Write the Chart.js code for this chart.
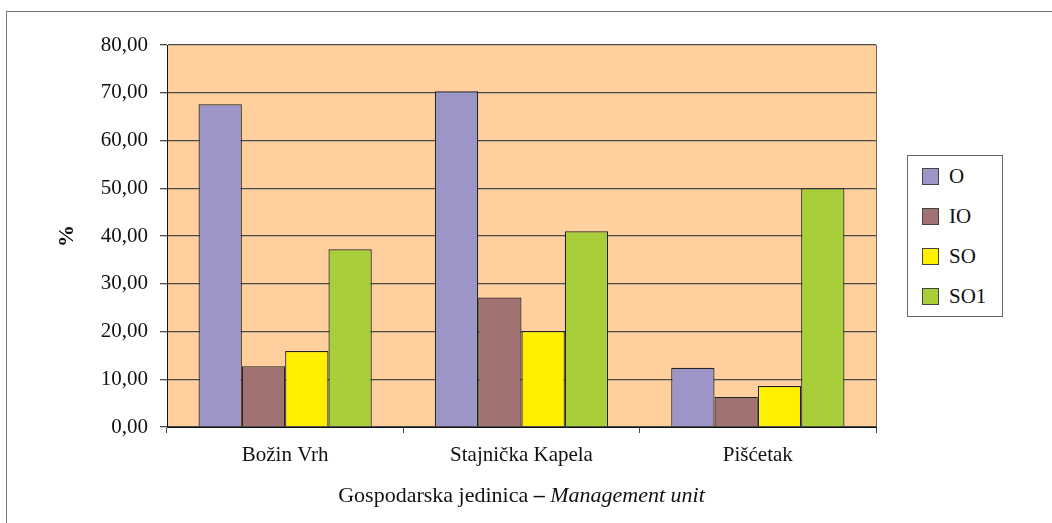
<!DOCTYPE html>
<html>
<head>
<meta charset="utf-8">
<script src="https://cdn.jsdelivr.net/npm/chart.js@4"></script>
<style>
  html, body { margin: 0; padding: 0; background: #fff; }
  #wrap { position: relative; width: 1052px; height: 523px; overflow: hidden; }
  #frame { position: absolute; left: 6px; top: 11px; width: 1100px; height: 600px;
           border-left: 1px solid #777; border-top: 1px solid #777; }
  #legend { position: absolute; left: 907px; top: 155px; width: 94px; height: 160px;
            border: 1px solid #666; background: #fff;
            font-family: "Liberation Serif", serif; font-size: 21px; color: #111; }
  .item { position: absolute; left: 14px; height: 18px; line-height: 18px; }
  .sw { position: absolute; left: 0; top: 0; width: 15px; height: 15px; border: 1px solid #444; }
  .lbl { position: absolute; left: 27px; top: -1px; white-space: nowrap; }
</style>
</head>
<body>
<div id="wrap">
  <div id="frame"></div>
  <canvas id="myChart" width="1052" height="523"></canvas>
  <div id="legend"></div>
</div>
<script>
const categories = ["Božin Vrh", "Stajnička Kapela", "Pišćetak"];
const seriesNames = ["O", "IO", "SO", "SO1"];
const valuesO = [67.6, 70.3, 12.4];
const valuesIO = [12.7, 27.1, 6.3];
const valuesSO = [15.9, 20.1, 8.6];
const valuesSO1 = [37.2, 41.0, 50.0];
const yTicks = [0, 10, 20, 30, 40, 50, 60, 70, 80];

const colors = ["#9c96c8", "#a27272", "#fff000", "#a8ce3a"];
const plotBg = "#ffd09e";
const fontFamily = "'Liberation Serif', 'Times New Roman', serif";

// plot background + right edge of the plot area
const plotArea = {
  id: 'plotArea',
  beforeDraw(chart) {
    const {ctx, chartArea: a} = chart;
    ctx.save();
    ctx.fillStyle = plotBg;
    ctx.fillRect(a.left, a.top, a.right - a.left, a.bottom - a.top);
    ctx.restore();
  },
  afterDraw(chart) {
    const {ctx, chartArea: a} = chart;
    ctx.save();
    ctx.strokeStyle = "#666";
    ctx.lineWidth = 1;
    ctx.beginPath();
    ctx.moveTo(a.right + 0.5, a.top);
    ctx.lineTo(a.right + 0.5, a.bottom);
    ctx.stroke();
    ctx.restore();
  }
};

// x axis title with mixed styles
const xTitle = {
  id: 'xTitle',
  afterDraw(chart) {
    const {ctx, chartArea: a} = chart;
    const parts = [
      {t: "Gospodarska jedinica ", f: "22px " + fontFamily},
      {t: "–", f: "bold 22px " + fontFamily},
      {t: " Management unit", f: "italic 22px " + fontFamily}
    ];
    ctx.save();
    ctx.fillStyle = "#111";
    ctx.textBaseline = "middle";
    let total = 0;
    parts.forEach(p => { ctx.font = p.f; p.w = ctx.measureText(p.t).width; total += p.w; });
    let x = (a.left + a.right) / 2 - total / 2;
    parts.forEach(p => { ctx.font = p.f; ctx.fillText(p.t, x, 496); x += p.w; });
    ctx.restore();
  }
};

const datasets = [valuesO, valuesIO, valuesSO, valuesSO1].map((vals, i) => ({
  label: seriesNames[i],
  data: vals,
  backgroundColor: colors[i],
  borderColor: "#222",
  borderWidth: 1.2,
  borderSkipped: 'bottom',
  categoryPercentage: 0.733,
  barPercentage: 1.0
}));

Chart.defaults.font.family = fontFamily;
Chart.defaults.font.size = 21;
Chart.defaults.color = "#111";

new Chart(document.getElementById("myChart"), {
  type: "bar",
  data: { labels: categories, datasets: datasets },
  plugins: [plotArea, xTitle],
  options: {
    responsive: false,
    animation: false,
    layout: { padding: { left: 0, top: 45, right: 176, bottom: 0 } },
    plugins: {
      legend: { display: false },
      tooltip: { enabled: false }
    },
    scales: {
      x: {
        afterFit(scale) { scale.height = 96; },
        grid: { display: true, offset: true, drawOnChartArea: false, drawTicks: true,
                tickLength: 6, color: "#444" },
        border: { display: true, color: "#111", width: 1 },
        ticks: { padding: 10, font: { size: 21 } }
      },
      y: {
        min: 0,
        max: 80,
        afterFit(scale) { scale.width = 167; },
        afterBuildTicks(scale) { scale.ticks = yTicks.map(v => ({ value: v })); },
        grid: { color: "#4a4a4a", lineWidth: 1.3, drawTicks: true, tickLength: 7 },
        border: { display: true, color: "#111", width: 1 },
        ticks: {
          padding: 12,
          font: { size: 21 },
          callback: (v) => v.toFixed(2).replace(".", ",")
        },
        title: { display: true, text: "%", font: { size: 22, weight: "bold" },
                 padding: { top: 54, bottom: 0 } }
      }
    }
  }
});

// legend box
const legend = document.getElementById("legend");
seriesNames.forEach((name, i) => {
  const item = document.createElement("div");
  item.className = "item";
  item.style.top = (12 + i * 40) + "px";
  item.innerHTML = '<span class="sw" style="background:' + colors[i] + '"></span>' +
                   '<span class="lbl">' + name + '</span>';
  legend.appendChild(item);
});
</script>
</body>
</html>
